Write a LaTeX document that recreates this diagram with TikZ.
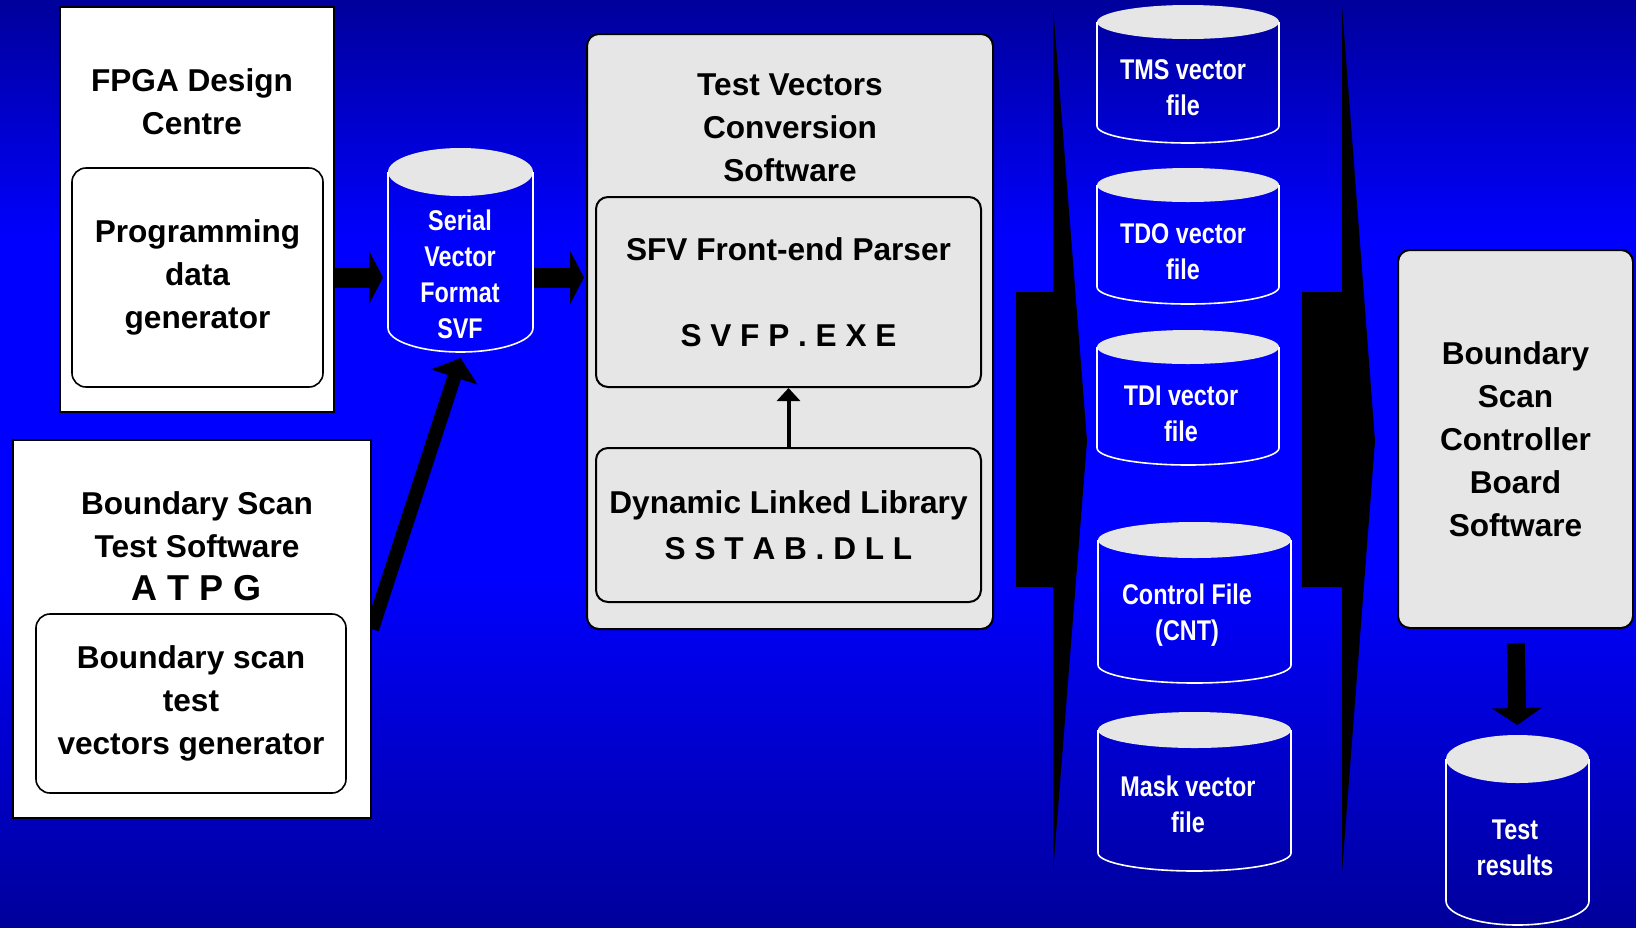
\documentclass[tikz,border=0pt]{standalone}
\usepackage{fontspec}
\setmainfont{Liberation Sans}
\newfontfamily\narrowsans{Liberation Sans}[FakeStretch=0.82]
\usepackage{tikz}
\usetikzlibrary{arrows.meta,calc}

\definecolor{deepblue}{RGB}{0,0,155}
\definecolor{brightblue}{RGB}{0,0,255}
\definecolor{panelgrey}{RGB}{230,230,230}

% slide backdrop: dark rim, bright band through the middle
\pgfdeclareverticalshading{slideblue}{100bp}{color(0bp)=(deepblue); color(25bp)=(deepblue);
  color(44bp)=(brightblue); color(62bp)=(brightblue); color(75bp)=(deepblue); color(100bp)=(deepblue)}

\newcommand{\boxfont}{\bfseries\fontsize{15.8pt}{21.5pt}\selectfont}
\newcommand{\canfont}{\narrowsans\bfseries\fontsize{14.25pt}{18pt}\selectfont}

\pgfdeclarelayer{back}
\pgfdeclarelayer{wires}
\pgfsetlayers{back,wires,main}

\tikzstyle{outerbox} = [rectangle, draw=black, line width=1pt, fill=white]
\tikzstyle{innerbox} = [rectangle, rounded corners=7pt, draw=black, line width=0.8pt, fill=white, align=center, font=\boxfont]
\tikzstyle{greybox} = [rectangle, rounded corners=6pt, draw=black, line width=1pt, fill=panelgrey, align=center, font=\boxfont]
\tikzstyle{title} = [align=center, font=\boxfont]
\tikzstyle{can} = [rectangle, outer sep=0pt, inner sep=0pt]
\tikzstyle{cantext} = [align=center, text=white, font=\canfont]
\tikzstyle{blockarrow} = [line width=10pt, -{Triangle[width=26.5pt,length=7pt]}]
\tikzstyle{slimarrow} = [line width=7pt, -{Triangle[width=24pt,length=10pt]}]
\tikzstyle{downarrow} = [line width=9pt, -{Triangle[width=24.5pt,length=8.5pt]}]
\tikzstyle{linkarrow} = [line width=2pt, -{Triangle[width=11.5pt,length=6.5pt]}]

% grey lid plus white sides and bottom rim round a can node
\newcommand{\canister}[2]{%
  \fill[panelgrey] let \p1=(#1.north west), \p2=(#1.south east) in
    ({(\x1+\x2)/2},{\y1-#2}) ellipse [x radius={(\x2-\x1)/2}, y radius=#2];
  \draw[white, line width=0.8pt] let \p1=(#1.north west), \p2=(#1.south east) in
    (\x1,{\y1-#2}) -- (\x1,{\y2+#2})
    arc[start angle=180, end angle=360, x radius={(\x2-\x1)/2}, y radius=#2]
    -- (\x2,{\y1-#2});
}

\begin{document}
\begin{tikzpicture}[x=0.5pt, y=-0.5pt]
\useasboundingbox (0,0) rectangle (1636,927);
\begin{pgfonlayer}{back}
\shade[shading=slideblue] (0,0) rectangle (1636,927);
\end{pgfonlayer}

% design centre
\node (fpga) at (197,209.5) [outerbox, minimum width=137pt, minimum height=202.5pt] {};
\node (fpgatitle) at (192,101.5) [title] {FPGA Design\\Centre};
\node (prog) at (197.5,277.5) [innerbox, minimum width=125.5pt, minimum height=109.5pt] {Programming\\data\\generator};

% test software
\node (bsts) at (192,629) [outerbox, minimum width=179pt, minimum height=189pt] {};
\node (bststitle) at (197,546) [title] {Boundary Scan\\Test Software\\{\fontsize{18pt}{22pt}\selectfont A T P G}};
\node (bsvg) at (191,703.5) [innerbox, minimum width=155pt, minimum height=89.5pt] {Boundary scan\\test\\vectors generator};

% svf file
\node (svf) at (460.5,250) [can, minimum width=72.5pt, minimum height=102pt] {};
\canister{svf}{12pt}
\node (svftext) at (460,274) [cantext] {Serial\\Vector\\Format\\SVF};

% conversion software
\node (tvcs) at (790,331.5) [greybox, minimum width=203pt, minimum height=297.5pt] {};
\node (tvcstitle) at (790,127.5) [title] {Test Vectors\\Conversion\\Software};
\node (sfvp) at (788.5,292) [greybox, minimum width=192.5pt, minimum height=95pt] {SFV Front-end Parser\\[21.5pt]S V F P . E X E};
\node (dll) at (788.5,525) [greybox, minimum width=192.5pt, minimum height=77pt] {Dynamic Linked Library\\[1.5pt]S S T A B . D L L};

% output files
\node (tms) at (1188,74) [can, minimum width=91pt, minimum height=69pt] {};
\canister{tms}{8.5pt}
\node (tmstext) at (1183,88) [cantext] {TMS vector\\file};
\node (tdo) at (1188,236) [can, minimum width=91pt, minimum height=68pt] {};
\canister{tdo}{8.5pt}
\node (tdotext) at (1183,251.5) [cantext] {TDO vector\\file};
\node (tdi) at (1188,397.5) [can, minimum width=91pt, minimum height=67.5pt] {};
\canister{tdi}{8.5pt}
\node (tditext) at (1181,413.5) [cantext] {TDI vector\\file};
\node (cnt) at (1194.5,602.5) [can, minimum width=96.5pt, minimum height=80.5pt] {};
\canister{cnt}{9pt}
\node (cnttext) at (1187,615) [cantext] {Control File\\(CNT)};
\node (mask) at (1194.5,791.5) [can, minimum width=96.5pt, minimum height=79.5pt] {};
\canister{mask}{9pt}
\node (masktext) at (1188,804.5) [cantext] {Mask vector\\file};

% controller board
\node (bscb) at (1515.5,439) [greybox, minimum width=117.5pt, minimum height=189pt] {Boundary\\Scan\\Controller\\Board\\Software};
\node (tr) at (1517.5,830) [can, minimum width=71.5pt, minimum height=95pt] {};
\canister{tr}{12pt}
\node (trtext) at (1515,847.5) [cantext] {Test\\results};

% big chevrons
\fill[black] (1016,292) -- (1053,292) -- (1053,6) -- (1087,441) -- (1053,872) -- (1053,587) -- (1016,587) -- cycle;
\fill[black] (1302,292) -- (1342,292) -- (1342,6) -- (1375,441) -- (1342,872) -- (1342,587) -- (1302,587) -- cycle;

\begin{pgfonlayer}{wires}
\draw[blockarrow, shorten >=2.5pt] (prog -| fpga.east) -- (prog -| svf.west);
\draw[blockarrow, shorten >=1pt] (prog -| svf.east) -- (prog -| tvcs.west);
\draw[slimarrow] (bsts.east) -- ([yshift=-3pt]svf.south);
\end{pgfonlayer}
\draw[linkarrow] (dll.north) -- (sfvp.south);
\draw[downarrow, shorten <=7pt, shorten >=5pt] (bscb.south) -- (tr.north);
\end{tikzpicture}
\end{document}
